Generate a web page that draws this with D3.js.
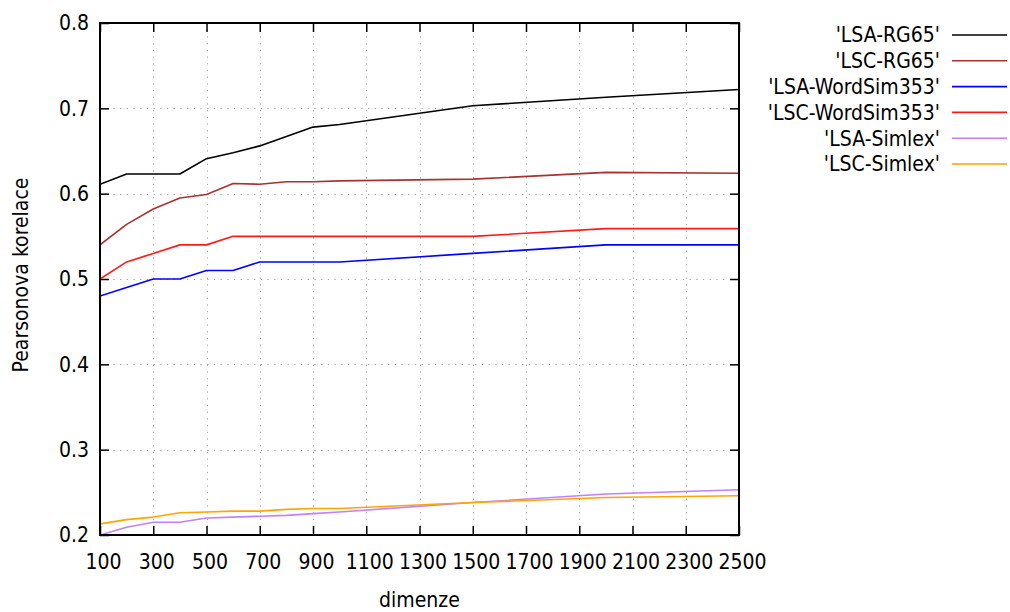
<!DOCTYPE html>
<html>
<head>
<meta charset="utf-8">
<script src="https://cdn.jsdelivr.net/npm/d3@7"></script>
<style>
	body { margin: 0; background: #fff; }
	svg text { font-family: 'DejaVu Sans Condensed', 'Liberation Sans', sans-serif; font-size: 21px; fill: #000; }
</style>
</head>
<body>
<div id="chart"></div>
<script>
const dims = [100, 200, 300, 400, 500, 600, 700, 800, 900, 1000, 1500, 2000, 2500]

const lsaRG65 = [0.611, 0.623, 0.623, 0.623, 0.641, 0.648, 0.656, 0.667, 0.678, 0.681, 0.703, 0.713, 0.722]
const lscRG65 = [0.540, 0.564, 0.582, 0.595, 0.599, 0.612, 0.611, 0.614, 0.614, 0.615, 0.617, 0.625, 0.624]
const lsaWordSim = [0.480, 0.490, 0.500, 0.500, 0.510, 0.510, 0.520, 0.520, 0.520, 0.520, 0.530, 0.540, 0.540]
const lscWordSim = [0.500, 0.520, 0.530, 0.540, 0.540, 0.550, 0.550, 0.550, 0.550, 0.550, 0.550, 0.559, 0.559]
const lsaSimlex = [0.200, 0.209, 0.215, 0.215, 0.220, 0.221, 0.222, 0.223, 0.225, 0.227, 0.238, 0.248, 0.253]
const lscSimlex = [0.213, 0.218, 0.221, 0.226, 0.227, 0.228, 0.228, 0.230, 0.231, 0.231, 0.238, 0.244, 0.246]

const seriesNames = ["'LSA-RG65'", "'LSC-RG65'", "'LSA-WordSim353'", "'LSC-WordSim353'", "'LSA-Simlex'", "'LSC-Simlex'"]
const seriesValues = [lsaRG65, lscRG65, lsaWordSim, lscWordSim, lsaSimlex, lscSimlex]
const seriesColors = ['#000000', '#a83232', '#0000ff', '#ff1a1a', '#c080ff', '#ffa500']

const xTicks = d3.range(100, 2501, 200)
const yTicks = [0.2, 0.3, 0.4, 0.5, 0.6, 0.7, 0.8]

const width = 1010
const height = 612
const plot = { left: 100, right: 739, top: 23, bottom: 535 }

const x = d3.scaleLinear().domain([100, 2500]).range([plot.left, plot.right])
const y = d3.scaleLinear().domain([0.2, 0.8]).range([plot.bottom, plot.top])

const svg = d3.select('#chart')
	.append('svg')
	.attr('width', width)
	.attr('height', height)

svg.append('defs')
	.append('clipPath')
	.attr('id', 'plotClip')
	.append('rect')
	.attr('x', plot.left)
	.attr('y', plot.top - 1)
	.attr('width', plot.right - plot.left)
	.attr('height', plot.bottom - plot.top + 2)

// dotted grid
const grid = svg.append('g')
	.attr('stroke', '#a0a0a0')
	.attr('stroke-width', 1)
	.attr('stroke-dasharray', '1.2,5.5')

grid.selectAll('.vgrid')
	.data(xTicks.filter(d => d > 100 && d < 2500))
	.enter()
	.append('line')
	.attr('x1', d => Math.round(x(d)) + 0.5)
	.attr('x2', d => Math.round(x(d)) + 0.5)
	.attr('y1', plot.top)
	.attr('y2', plot.bottom)

grid.selectAll('.hgrid')
	.data(yTicks.filter(d => d > 0.2 && d < 0.8))
	.enter()
	.append('line')
	.attr('x1', plot.left)
	.attr('x2', plot.right)
	.attr('y1', d => Math.round(y(d)) + 0.5)
	.attr('y2', d => Math.round(y(d)) + 0.5)

// axes, ticks drawn inward and mirrored like gnuplot
const tickLen = 9

const xAxisBottom = svg.append('g')
	.attr('transform', `translate(0,${plot.bottom})`)
	.call(d3.axisBottom(x).tickValues(xTicks).tickSize(-tickLen).tickPadding(19).tickFormat(d3.format('d')))
const xAxisTop = svg.append('g')
	.attr('transform', `translate(0,${plot.top})`)
	.call(d3.axisTop(x).tickValues(xTicks).tickSize(-tickLen).tickFormat(''))
const yAxisLeft = svg.append('g')
	.attr('transform', `translate(${plot.left},0)`)
	.call(d3.axisLeft(y).tickValues(yTicks).tickSize(-tickLen).tickPadding(11).tickFormat(d3.format('.1f')))
const yAxisRight = svg.append('g')
	.attr('transform', `translate(${plot.right},0)`)
	.call(d3.axisRight(y).tickValues(yTicks).tickSize(-tickLen).tickFormat(''))

;[xAxisBottom, xAxisTop, yAxisLeft, yAxisRight].forEach(axis => {
	axis.select('.domain').remove()
	axis.selectAll('.tick line').attr('stroke', '#000').attr('stroke-width', 1.5)
	axis.selectAll('text').attr('font-size', null).attr('font-family', null)
})
xAxisBottom.selectAll('text').attr('dx', 3)

// plot lines
const line = d3.line()
	.x((d, i) => x(dims[i]))
	.y(d => y(d))

svg.append('g')
	.attr('clip-path', 'url(#plotClip)')
	.selectAll('.series')
	.data(seriesValues)
	.enter()
	.append('path')
	.attr('class', 'series')
	.attr('d', d => line(d))
	.attr('fill', 'none')
	.attr('stroke', (d, i) => seriesColors[i])
	.attr('stroke-width', 1.6)
	.attr('stroke-linejoin', 'round')

// border
svg.append('rect')
	.attr('x', plot.left)
	.attr('y', plot.top)
	.attr('width', plot.right - plot.left)
	.attr('height', plot.bottom - plot.top)
	.attr('fill', 'none')
	.attr('stroke', '#000')
	.attr('stroke-width', 2)

// axis titles
svg.append('text')
	.attr('x', (plot.left + plot.right) / 2)
	.attr('y', 607)
	.attr('text-anchor', 'middle')
	.text('dimenze')

svg.append('text')
	.attr('transform', `translate(28,${(plot.top + plot.bottom) / 2 - 4}) rotate(-90)`)
	.attr('text-anchor', 'middle')
	.text('Pearsonova korelace')

// legend
const legend = svg.append('g')
	.selectAll('.legend-item')
	.data(seriesNames)
	.enter()
	.append('g')
	.attr('class', 'legend-item')
	.attr('transform', (d, i) => `translate(0,${35 + i * 25.8})`)

legend.append('text')
	.attr('x', 940)
	.attr('dy', '0.35em')
	.attr('text-anchor', 'end')
	.text(d => d)

legend.append('line')
	.attr('x1', 952)
	.attr('x2', 1007)
	.attr('stroke', (d, i) => seriesColors[i])
	.attr('stroke-width', 1.6)
</script>
</body>
</html>
